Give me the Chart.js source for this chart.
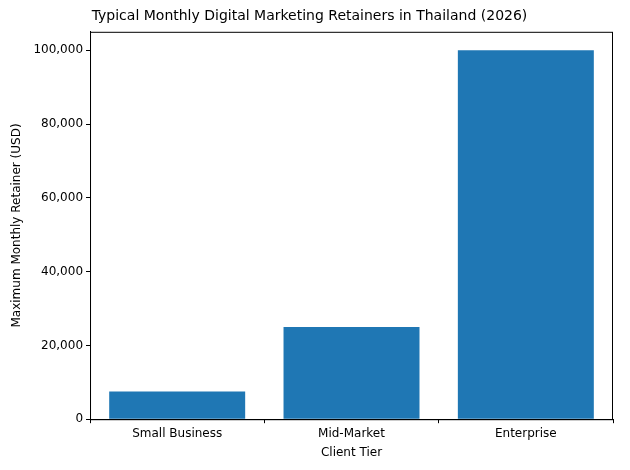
<!DOCTYPE html>
<html><head><meta charset="utf-8">
<script src="https://cdn.jsdelivr.net/npm/chart.js@4"></script>
<style>body{margin:0;background:#fff}#w{width:630px;height:470px}</style>
</head><body><div id="w"><canvas id="c"></canvas></div>
<script>
const categories = ["Small Business", "Mid-Market", "Enterprise"];
const values = [7500, 25000, 100000];
const yTicks = [0, 20000, 40000, 60000, 80000, 100000];

const frame = {id:'frame', afterDraw(ch){const a=ch.chartArea,x=ch.ctx;x.save();x.strokeStyle='#000';x.lineWidth=1;x.strokeRect(a.left+0.5,a.top+0.5,a.right-a.left-1,a.bottom-a.top);x.restore();}};
Chart.defaults.font.family = "DejaVu Sans";
Chart.defaults.color = "#000";
new Chart(document.getElementById('c'), {
  type: 'bar',
  data: {labels: categories, datasets: [{data: values, backgroundColor: '#1f77b4', barPercentage: 0.78, categoryPercentage: 1}]},
  options: {
    responsive: true, maintainAspectRatio: false, animation: false,
    layout: {padding: {left: 6, right: 17, top: 4, bottom: 6}},
    plugins: {legend: {display: false}, tooltip: {enabled: false},
      title: {display: true, text: 'Typical Monthly Digital Marketing Retainers in Thailand (2026)', font: {size: 14, weight: 'normal'}, padding: {top: 4, bottom: 7}}},
    scales: {
      x: {grid: {drawOnChartArea: false, tickLength: 4, color: '#000'}, border: {color: '#000'},
          ticks: {font: {size: 12}, padding: 3},
          title: {display: true, text: 'Client Tier', font: {size: 12}, padding: {top: 2}}},
      y: {min: 0, max: 105000, afterBuildTicks: s => { s.ticks = yTicks.map(v => ({value: v})); },
          grid: {drawOnChartArea: false, tickLength: 4, color: '#000'}, border: {color: '#000'},
          ticks: {font: {size: 12}, padding: 3},
          title: {display: true, text: 'Maximum Monthly Retainer (USD)', font: {size: 12}, padding: {bottom: 6}}}
    }
  },
  plugins: [frame]
});
</script></body></html>
